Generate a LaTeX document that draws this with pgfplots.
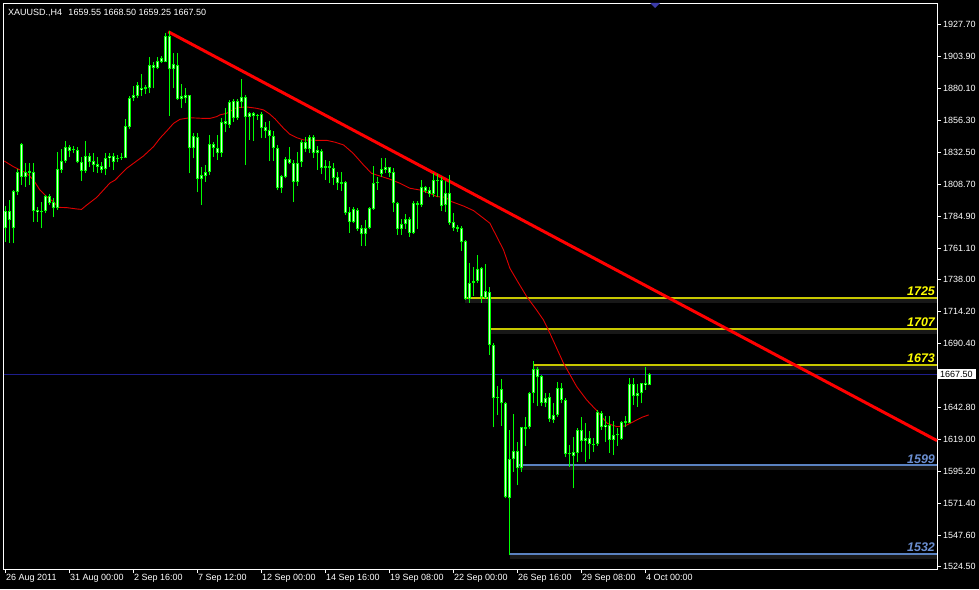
\documentclass[border=0pt]{standalone}
\usepackage{fontspec}
\setmainfont{Liberation Sans}
\usepackage{pgfplots}
\usepackage{pgfplotstable}
\pgfplotsset{compat=1.18}

\definecolor{candle}{HTML}{00FF00}
\definecolor{candlein}{HTML}{D8FFD8}
\definecolor{maline}{HTML}{E00000}
\definecolor{trend}{HTML}{FF0000}
\definecolor{lvlyel}{HTML}{C8C800}
\definecolor{lblyel}{HTML}{FFFF00}
\definecolor{lvlblue}{HTML}{5A82C0}
\definecolor{lblblue}{HTML}{6A8ED0}
\definecolor{bidline}{HTML}{1E1E8C}
\definecolor{glow}{HTML}{181818}
\definecolor{shiftmark}{HTML}{3C3CAA}

% XAUUSD H4 candles, one row per bar (26 Aug 08:00 ... 4 Oct 04:00)
\pgfplotstableread{
hi lo top bot
1792.4 1765.9 1788.9 1775.8
1796.9 1765.1 1788.7 1782.0
1804.0 1764.7 1803.5 1775.8
1819.9 1800.6 1817.4 1803.0
1839.5 1808.0 1838.5 1814.2
1824.1 1806.8 1817.4 1814.2
1824.1 1808.0 1818.4 1817.2
1824.6 1780.8 1817.9 1788.9
1791.9 1780.8 1789.4 1787.7
1795.6 1775.8 1788.9 1787.9
1800.6 1787.0 1799.8 1788.9
1801.3 1793.1 1799.8 1794.9
1798.1 1784.0 1795.4 1790.7
1832.8 1789.4 1819.6 1790.7
1834.5 1817.2 1826.1 1819.1
1840.9 1824.6 1836.0 1826.1
1837.7 1829.1 1836.0 1833.5
1837.0 1832.0 1834.5 1833.7
1836.5 1824.1 1834.0 1825.3
1829.1 1811.2 1825.3 1818.7
1840.9 1817.2 1829.6 1818.7
1832.0 1821.6 1829.8 1825.3
1831.5 1817.9 1826.1 1822.9
1828.6 1817.2 1823.6 1821.6
1825.3 1816.7 1822.1 1819.1
1831.5 1815.4 1827.8 1819.6
1831.5 1821.6 1829.8 1827.8
1831.5 1819.1 1829.6 1825.3
1830.3 1824.8 1828.3 1827.3
1832.0 1826.6 1828.8 1827.8
1857.0 1827.8 1851.8 1828.3
1874.1 1849.6 1872.4 1851.4
1881.8 1870.4 1874.9 1872.4
1884.3 1872.9 1882.3 1874.4
1890.2 1874.4 1880.3 1878.6
1882.3 1875.4 1880.6 1879.3
1902.9 1876.1 1897.2 1879.8
1899.2 1879.8 1897.2 1895.2
1903.4 1894.0 1900.1 1895.2
1904.1 1898.4 1902.6 1899.6
1920.7 1899.2 1918.7 1899.6
1922.4 1859.5 1918.7 1894.0
1905.8 1879.8 1897.7 1894.0
1905.8 1871.2 1897.2 1871.9
1882.8 1865.0 1874.1 1871.9
1880.3 1868.7 1874.9 1872.9
1874.9 1816.7 1874.9 1835.3
1846.4 1827.8 1844.4 1835.3
1846.4 1802.6 1843.4 1812.5
1821.6 1793.1 1815.4 1812.5
1822.9 1810.5 1817.4 1814.9
1845.2 1815.4 1838.5 1817.9
1840.2 1829.1 1838.5 1835.8
1845.2 1826.6 1835.3 1832.0
1857.5 1829.1 1855.1 1832.0
1865.5 1847.2 1855.6 1853.1
1871.2 1850.7 1869.5 1852.6
1872.0 1855.1 1870.5 1857.6
1872.0 1856.4 1870.5 1857.6
1886.8 1865.0 1873.7 1870.0
1874.9 1822.9 1873.7 1858.8
1862.6 1841.5 1861.3 1858.8
1862.1 1840.8 1861.3 1859.6
1860.6 1856.4 1860.1 1859.3
1862.1 1842.7 1860.6 1850.7
1855.1 1842.7 1851.4 1848.2
1855.6 1825.9 1848.9 1844.7
1848.2 1825.9 1844.5 1835.8
1837.8 1804.0 1835.3 1805.6
1815.5 1801.9 1814.7 1805.6
1829.1 1813.0 1827.4 1814.2
1836.5 1823.4 1827.4 1824.2
1826.6 1795.2 1824.2 1810.5
1832.8 1807.6 1824.2 1810.5
1841.5 1821.7 1839.8 1824.9
1844.0 1832.3 1839.8 1834.8
1845.2 1831.6 1844.0 1834.8
1845.2 1827.9 1844.0 1831.6
1837.3 1819.2 1834.1 1831.6
1834.8 1816.0 1833.3 1821.0
1826.6 1811.8 1822.4 1821.0
1825.9 1809.3 1822.4 1821.0
1824.2 1808.1 1821.0 1813.5
1818.0 1804.4 1813.8 1809.3
1818.0 1803.9 1810.0 1808.9
1811.3 1785.8 1810.0 1787.5
1792.0 1772.6 1788.2 1780.8
1792.0 1779.6 1790.0 1780.8
1790.7 1774.1 1789.5 1775.1
1778.3 1762.7 1775.9 1771.4
1782.1 1762.7 1775.9 1771.4
1792.0 1775.1 1790.7 1775.9
1822.2 1789.5 1809.3 1790.0
1813.8 1804.3 1810.5 1809.3
1827.9 1814.3 1819.7 1816.2
1827.9 1816.7 1821.2 1819.2
1821.7 1814.3 1821.2 1817.2
1820.4 1788.2 1817.5 1794.4
1795.7 1770.9 1794.9 1775.1
1782.5 1770.9 1778.8 1775.1
1786.5 1775.1 1782.5 1778.8
1784.0 1769.7 1782.5 1772.6
1796.4 1771.7 1794.4 1772.1
1796.4 1775.1 1794.4 1793.2
1811.8 1792.0 1806.3 1793.2
1807.3 1801.9 1806.3 1803.9
1806.8 1798.9 1804.3 1801.4
1816.7 1798.9 1811.8 1801.4
1816.2 1799.4 1811.8 1811.0
1814.3 1789.0 1811.8 1792.5
1811.3 1788.2 1801.9 1793.2
1815.5 1778.3 1802.4 1780.1
1787.0 1774.1 1780.8 1775.9
1778.3 1773.4 1776.6 1775.1
1777.6 1759.3 1775.9 1765.9
1767.2 1722.6 1766.4 1723.1
1749.9 1720.6 1735.5 1723.1
1747.4 1725.6 1736.7 1735.5
1756.0 1735.5 1745.6 1737.0
1746.9 1720.6 1746.1 1724.6
1749.4 1723.1 1729.3 1724.3
1732.0 1681.7 1728.8 1689.2
1690.4 1628.0 1689.2 1650.0
1658.7 1637.1 1650.8 1650.0
1663.6 1629.0 1656.2 1645.8
1647.0 1575.2 1645.8 1575.9
1626.0 1533.1 1604.2 1575.2
1637.9 1595.0 1610.6 1604.2
1617.3 1585.1 1610.6 1597.5
1628.5 1595.0 1628.0 1597.5
1635.9 1614.1 1628.0 1626.5
1654.5 1627.0 1653.2 1628.0
1677.5 1646.3 1671.1 1653.2
1672.6 1643.8 1671.1 1665.1
1666.9 1643.8 1666.1 1646.3
1653.7 1642.8 1649.5 1646.3
1653.2 1632.2 1650.3 1633.9
1646.3 1631.4 1637.1 1633.4
1661.9 1635.9 1656.9 1637.1
1661.2 1645.8 1656.9 1648.3
1649.5 1605.7 1648.3 1607.9
1614.8 1598.2 1609.1 1607.9
1621.0 1582.6 1609.9 1606.9
1627.2 1602.5 1626.0 1609.1
1635.4 1609.9 1626.0 1618.1
1631.4 1602.5 1619.8 1618.1
1625.5 1604.2 1619.8 1615.6
1619.8 1609.9 1615.6 1614.8
1640.8 1614.1 1639.6 1615.6
1640.4 1626.0 1638.9 1628.0
1636.4 1617.3 1629.7 1628.0
1636.4 1609.1 1629.7 1618.6
1632.9 1607.4 1622.3 1618.6
1627.2 1614.1 1623.0 1622.2
1632.9 1618.6 1632.2 1619.0
1636.4 1628.5 1632.9 1631.4
1664.4 1630.9 1660.2 1631.4
1664.4 1644.6 1660.2 1651.2
1660.2 1643.3 1653.2 1651.2
1661.2 1645.8 1660.7 1653.2
1672.6 1655.7 1661.2 1659.4
1668.50 1659.25 1667.50 1659.55
}\candles

% moving average (thin red line)
\pgfplotstableread{
x ma
-0.3 1825.8
2.0 1821.6
5.3 1816.7
7.0 1811.7
8.6 1804.3
10.3 1799.3
12.0 1795.6
13.2 1791.4
15.3 1791.2
17.8 1790.2
19.0 1789.9
20.3 1793.1
22.8 1798.8
24.5 1804.3
26.1 1809.5
27.4 1811.7
30.3 1820.4
34.5 1829.6
37.0 1836.5
38.6 1842.7
40.3 1848.1
42.0 1853.8
43.6 1856.8
46.1 1858.0
49.5 1857.5
51.1 1857.5
52.8 1858.8
53.6 1860.1
55.3 1861.3
57.8 1865.5
60.3 1866.0
62.8 1865.0
64.5 1863.8
66.1 1860.6
67.4 1857.1
69.5 1850.2
71.1 1845.7
72.8 1843.2
74.5 1841.5
77.8 1841.2
80.3 1841.2
82.4 1839.8
84.5 1837.8
86.9 1831.6
89.5 1822.9
91.5 1816.7
93.6 1814.7
96.1 1812.3
98.6 1809.3
101.1 1805.6
103.6 1804.3
106.1 1801.9
107.8 1799.4
110.0 1798.9
111.5 1795.7
114.5 1792.4
117.0 1789.0
119.5 1783.3
121.1 1779.6
122.8 1769.7
124.5 1759.8
126.1 1746.1
127.8 1737.5
130.3 1725.1
132.8 1715.0
134.5 1707.7
136.1 1697.9
139.5 1675.6
142.8 1658.2
145.3 1648.3
147.8 1640.4
150.4 1631.0
152.8 1628.5
154.9 1629.0
157.0 1632.2
159.1 1635.4
160.8 1637.2
}\mavg

\begin{document}
\begin{tikzpicture}[x=1pt,y=1pt]
\path[use as bounding box, fill=black] (0,0) rectangle (979,589);
\begin{axis}[
    at={(4pt,20pt)}, anchor=south west,
    scale only axis,
    width=933pt, height=565pt,
    xmin=-0.375, xmax=232.875,
    ymin=1522.7, ymax=1942.5,
    clip=false,
    axis line style={white, line width=1pt},
    tick style={white, line width=0.8pt},
    tick align=outside,
    major tick length=4pt,
    xtick pos=left,
    ytick pos=right,
    yticklabel pos=right,
    xtick={0,16,...,160},
    xticklabels={26 Aug 2011, 31 Aug 00:00, 2 Sep 16:00, 7 Sep 12:00, 12 Sep 00:00, 14 Sep 16:00, 19 Sep 08:00, 22 Sep 00:00, 26 Sep 16:00, 29 Sep 08:00, 4 Oct 00:00},
    ytick={1927.7,1903.9,1880.1,1856.3,1832.5,1808.7,1784.9,1761.1,1738.0,1714.2,1690.4,1642.8,1619.0,1595.2,1571.4,1547.6,1524.5},
    yticklabels={1927.70,1903.90,1880.10,1856.30,1832.50,1808.70,1784.90,1761.10,1738.00,1714.20,1690.40,1642.80,1619.00,1595.20,1571.40,1547.60,1524.50},
    tick label style={text=white, font=\fontsize{9}{10}\selectfont},
    xticklabel style={anchor=north west, inner xsep=0.5pt, inner ysep=1pt},
    yticklabel style={inner xsep=2pt},
]
% bid line
\addplot[bidline, line width=1pt, forget plot] coordinates {(-0.375,1667.5) (232.875,1667.5)};

% levels: dark glow below, then the line
\addplot[glow, line width=4pt, yshift=-3pt, forget plot] coordinates {(114.9,1724.0) (232.875,1724.0)};
\addplot[glow, line width=4pt, yshift=-3pt, forget plot] coordinates {(121.1,1701.0) (232.875,1701.0)};
\addplot[glow, line width=4pt, yshift=-3pt, forget plot] coordinates {(131.9,1674.2) (232.875,1674.2)};
\addplot[glow, line width=4pt, yshift=-3pt, forget plot] coordinates {(128.4,1599.8) (232.875,1599.8)};
\addplot[glow, line width=4pt, yshift=-3pt, forget plot] coordinates {(126.0,1533.9) (232.875,1533.9)};
\addplot[lvlyel, line width=2pt, forget plot] coordinates {(114.9,1724.0) (232.875,1724.0)};
\addplot[lvlyel, line width=2pt, forget plot] coordinates {(121.1,1701.0) (232.875,1701.0)};
\addplot[lvlyel, line width=2pt, forget plot] coordinates {(131.9,1674.2) (232.875,1674.2)};
\addplot[lvlblue, line width=2pt, forget plot] coordinates {(128.4,1599.8) (232.875,1599.8)};
\addplot[lvlblue, line width=2pt, forget plot] coordinates {(126.0,1533.9) (232.875,1533.9)};

% moving average
\addplot[maline, line width=0.9pt, mark=none, forget plot] table[x=x, y=ma] {\mavg};

% trend line
\addplot[trend, line width=3pt, forget plot] coordinates {(40.7,1921.9) (232.875,1618.1)};

% candles: wicks, bodies, body highlight
\addplot[draw=none, mark=none, forget plot,
    error bars/.cd, y dir=plus, y explicit, error mark=none,
    error bar style={draw=candle, line width=1pt}]
    table[x expr=\coordindex, y=lo, y error plus expr={\thisrow{hi}-\thisrow{lo}}] {\candles};
\addplot[draw=none, mark=none, forget plot,
    error bars/.cd, y dir=plus, y explicit, error mark=none,
    error bar style={draw=candle, line width=3pt}]
    table[x expr=\coordindex, y=bot, y error plus expr={\thisrow{top}-\thisrow{bot}}] {\candles};
\addplot[draw=none, mark=none, forget plot,
    error bars/.cd, y dir=plus, y explicit, error mark=none,
    error bar style={draw=candlein, line width=1pt}]
    table[x expr=\coordindex, y expr={\thisrow{bot}+0.75}, y error plus expr={max(\thisrow{top}-\thisrow{bot}-1.5,0)}] {\candles};

% level labels
\node[anchor=base east, inner sep=0pt, text=lblyel, font=\bfseries\itshape\fontsize{12.5}{14}\selectfont] at (axis cs:232.4,1725.6) {1725};
\node[anchor=base east, inner sep=0pt, text=lblyel, font=\bfseries\itshape\fontsize{12.5}{14}\selectfont] at (axis cs:232.4,1702.6) {1707};
\node[anchor=base east, inner sep=0pt, text=lblyel, font=\bfseries\itshape\fontsize{12.5}{14}\selectfont] at (axis cs:232.4,1675.8) {1673};
\node[anchor=base east, inner sep=0pt, text=lblblue, font=\bfseries\itshape\fontsize{12.5}{14}\selectfont] at (axis cs:232.4,1601.4) {1599};
\node[anchor=base east, inner sep=0pt, text=lblblue, font=\bfseries\itshape\fontsize{12.5}{14}\selectfont] at (axis cs:232.4,1535.5) {1532};

% bid price tag on the price scale
\node[anchor=west, fill=white, text=black, inner xsep=3pt, inner ysep=1.5pt, font=\fontsize{9}{10}\selectfont] at (axis cs:232.875,1667.5) {1667.50};
\end{axis}
\node[anchor=west, inner sep=0pt, text=white, font=\fontsize{9}{10}\selectfont] at (8,576) {XAUUSD.,H4\hspace{0.7em}1659.55 1668.50 1659.25 1667.50};
\fill[shiftmark] (650,586) -- (660,586) -- (655,581) -- cycle;
\end{tikzpicture}
\end{document}
